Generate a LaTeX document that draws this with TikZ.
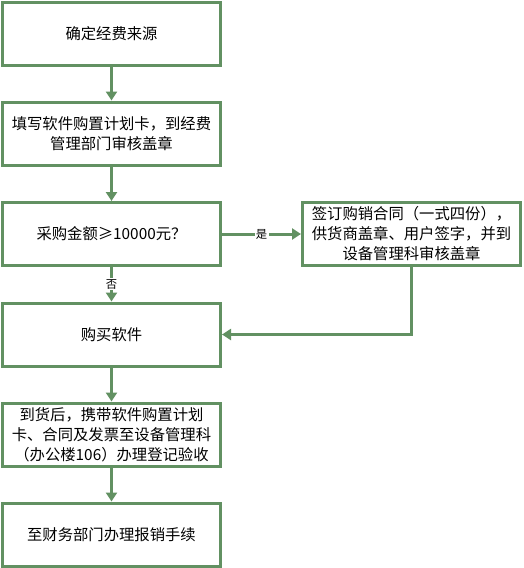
\documentclass[tikz,border=0pt]{standalone}
\usepackage{fontspec}
\usepackage{xcolor}
\usepackage{tikz}
\usetikzlibrary{arrows.meta}
\newfontfamily\cjk{Noto Sans CJK SC}
\definecolor{boxgreen}{RGB}{98,145,98}

\begin{document}
\begin{tikzpicture}[x=0.75pt,y=-0.75pt]
\tikzset{>={Triangle[width=8.25pt,length=6.75pt]}}
\tikzstyle{stepbox} =[draw=boxgreen, line width=2.25pt, fill=white, minimum width=163.5pt, minimum height=47.25pt, inner sep=2pt, align=center, font=\cjk\fontsize{11.5}{15}\selectfont]
\tikzstyle{flow} =[->, draw=boxgreen, line width=2.25pt]
\tikzstyle{answer} =[fill=white, inner sep=1pt, font=\cjk\fontsize{8.5}{10}\selectfont]
\useasboundingbox (0,0) rectangle (524,568);
\node[stepbox](source) at (111.5,33.5){确定经费来源};
\node[stepbox](plan) at (111.5,133.5){填写软件购置计划卡，到经费\\管理部门审核盖章};
\node[stepbox](amount) at (111.5,234){采购金额≥10000元？};
\node[stepbox](contract) at (411.5,234){签订购销合同（一式四份），\\供货商盖章、用户签字，并到\\设备管理科审核盖章};
\node[stepbox](buy) at (111.5,334.5){购买软件};
\node[stepbox](check) at (111.5,434.5){到货后，携带软件购置计划\\卡、合同及发票至设备管理科\\（办公楼106）办理登记验收};
\node[stepbox](refund) at (111.5,534.5){至财务部门办理报销手续};
\draw [flow] (source) -- (plan);
\draw [flow] (plan) -- (amount);
\draw [flow] (amount) -- node[answer]{是} (contract);
\draw [flow] (amount) -- node[answer]{否} (buy);
\draw [flow] (contract.south) |- (buy.east);
\draw [flow] (buy) -- (check);
\draw [flow] (check) -- (refund);
\end{tikzpicture}
\end{document}
